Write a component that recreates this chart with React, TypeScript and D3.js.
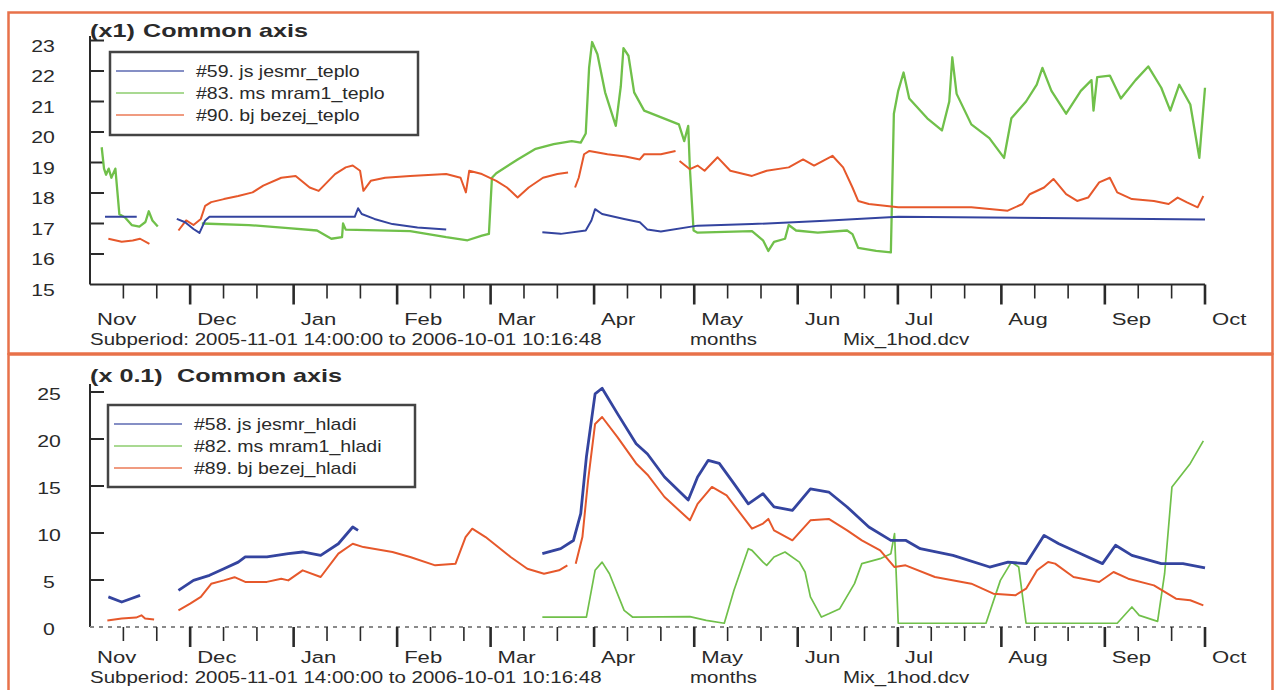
import React from 'react';
import * as d3 from 'd3';

// ---------- axis / category data ----------
const PERIOD_START = Date.UTC(2005, 10, 1);
const PERIOD_END = Date.UTC(2006, 9, 1);
const MONTH_LABELS = ['Nov', 'Dec', 'Jan', 'Feb', 'Mar', 'Apr', 'May', 'Jun', 'Jul', 'Aug', 'Sep', 'Oct'];
const TOP_Y_TICKS = [15, 16, 17, 18, 19, 20, 21, 22, 23];
const BOTTOM_Y_TICKS = [0, 5, 10, 15, 20, 25];
const TOP_TITLE_SCALE = '(x1)';
const BOTTOM_TITLE_SCALE = '(x 0.1)';
const TITLE_TEXT = 'Common axis';
const SUBPERIOD = 'Subperiod: 2005-11-01 14:00:00 to 2006-10-01 10:16:48';
const X_UNIT = 'months';
const FILE_NAME = 'Mix_1hod.dcv';
const TOP_LEGEND = ['#59. js jesmr_teplo', '#83. ms mram1_teplo', '#90. bj bezej_teplo'];
const BOTTOM_LEGEND = ['#58. js jesmr_hladi', '#82. ms mram1_hladi', '#89. bj bezej_hladi'];

// ---------- series: [days since 2005-11-01, value]; null value = gap ----------
const jesmrTeplo: [number, number | null][] = [
  [4.5, 17.22], [14, 17.22], [14.5, null],
  [26, 17.15], [28.5, 17.04], [31, 16.82], [32.8, 16.69], [34.5, 17.1], [35.8, 17.22], [79.3, 17.22], [80.3, 17.5], [81.4, 17.31], [85.2, 17.15], [90.6, 16.98], [98.1, 16.87], [106.7, 16.8], [107, null],
  [135.5, 16.71], [141, 16.66], [148.5, 16.77], [150.2, 17.1], [151.3, 17.47], [153.4, 17.31], [160, 17.15], [164.7, 17.04], [167, 16.8], [171, 16.74], [182, 16.93], [198.3, 16.98], [220.2, 17.09], [242.1, 17.22], [285.8, 17.18], [334, 17.13],
];
const mram1Teplo: [number, number | null][] = [
  [3.5, 19.5], [4.2, 18.8], [4.8, 18.6], [5.6, 18.8], [6.4, 18.5], [7.6, 18.8], [8.8, 17.3], [10.5, 17.2], [12.5, 16.95], [14.8, 16.9], [16.6, 17.05], [17.6, 17.4], [18.7, 17.1], [20.3, 16.9], [21, null],
  [33.5, 17.0], [47.6, 16.95], [59.4, 16.85], [68, 16.77], [72.3, 16.5], [75.5, 16.55], [75.8, 17.0], [76.6, 16.8], [95.9, 16.75], [106.7, 16.55], [113.1, 16.45], [117.4, 16.6], [119.5, 16.66], [120.4, 18.5], [121.7, 18.65], [128.1, 19.1], [133.5, 19.45], [138.9, 19.6], [144.3, 19.7], [147, 19.65], [148.5, 19.95], [149.5, 22.1], [150.4, 22.95], [152, 22.55], [154.3, 21.3], [157.5, 20.2], [159, 21.5], [159.8, 22.75], [161.3, 22.5], [163, 21.3], [166, 20.7], [176.4, 20.25], [178, 19.7], [179.2, 20.2], [179.7, 18.8], [180.8, 16.77], [182, 16.7], [198.3, 16.75], [201.6, 16.45], [203.2, 16.1], [204.9, 16.4], [208.2, 16.5], [209.3, 16.95], [211.5, 16.77], [218, 16.7], [226.8, 16.77], [228.4, 16.65], [230.1, 16.2], [235.5, 16.1], [239.9, 16.05], [240.8, 20.6], [242.1, 21.35], [243.7, 21.95], [245.4, 21.1], [250.8, 20.45], [255.2, 20.05], [257.4, 21.0], [258.3, 22.45], [259.6, 21.25], [264, 20.25], [269.4, 19.8], [273.8, 19.15], [276, 20.45], [280.4, 21.0], [283.6, 21.55], [285.3, 22.1], [288, 21.35], [292.4, 20.6], [296.8, 21.35], [300, 21.7], [300.6, 20.7], [301.7, 21.8], [305.5, 21.85], [308.8, 21.1], [313.2, 21.7], [317, 22.15], [320.9, 21.45], [323.6, 20.7], [326.3, 21.55], [329.6, 20.9], [332.3, 19.15], [334, 21.45],
];
const bezejTeplo: [number, number | null][] = [
  [5.5, 16.5], [9.5, 16.4], [12.8, 16.44], [15, 16.5], [17.8, 16.33], [18.2, null],
  [26.5, 16.77], [28.8, 17.1], [31, 16.95], [33.2, 17.15], [34.5, 17.58], [36.3, 17.7], [40.1, 17.8], [44.4, 17.9], [48.7, 18.02], [51.9, 18.24], [57.3, 18.5], [61.6, 18.56], [65.8, 18.18], [68.5, 18.07], [73.4, 18.62], [76.6, 18.84], [78.7, 18.9], [80.9, 18.73], [81.9, 18.07], [84.1, 18.4], [88.4, 18.5], [95.9, 18.56], [106.7, 18.62], [111, 18.5], [112.6, 18.02], [113.6, 18.73], [117.4, 18.62], [121.7, 18.4], [124.9, 18.18], [128.1, 17.85], [131.4, 18.18], [135.7, 18.5], [140, 18.62], [143.2, 18.67], [144, null],
  [145.3, 18.18], [146.4, 18.5], [148, 19.27], [149.6, 19.38], [155, 19.27], [160.4, 19.2], [164.7, 19.1], [166, 19.27], [171, 19.27], [175.4, 19.38], [176, null],
  [176.6, 19.05], [179.7, 18.78], [182, 18.9], [184.1, 18.73], [188, 19.17], [191.8, 18.73], [198.3, 18.56], [202.7, 18.73], [209.3, 18.84], [213.6, 19.1], [216.9, 18.9], [222.4, 19.22], [225.6, 18.84], [228.4, 18.18], [230.1, 17.74], [233.3, 17.64], [242.1, 17.53], [264, 17.53], [274.9, 17.42], [279.3, 17.64], [281.5, 17.96], [285.8, 18.18], [288.6, 18.46], [292.4, 17.96], [295.7, 17.74], [299, 17.85], [302.3, 18.35], [305.5, 18.5], [307.7, 18.02], [312.1, 17.8], [318.7, 17.74], [323.1, 17.64], [325.8, 17.85], [328.6, 17.69], [331.8, 17.53], [333.5, 17.9],
];
const jesmrHladi: [number, number | null][] = [
  [5.5, 3.2], [9.5, 2.66], [12.2, 3.0], [15, 3.37], [15.5, null],
  [26.5, 3.9], [31, 4.96], [35.8, 5.5], [40.1, 6.2], [44.4, 6.9], [46.5, 7.45], [53, 7.45], [59.4, 7.8], [63.7, 7.98], [69.1, 7.62], [74.4, 8.86], [78.7, 10.64], [80.3, 10.28], [81, null],
  [135.5, 7.8], [141, 8.33], [144.8, 9.2], [147, 12.06], [148.7, 18.1], [151.3, 24.8], [153.4, 25.4], [158, 22.7], [163.6, 19.5], [167, 18.4], [172.1, 15.96], [179.2, 13.5], [182, 15.96], [185.2, 17.73], [188.5, 17.4], [192.9, 15.25], [197.2, 13.1], [201.6, 14.18], [204.9, 12.77], [210.4, 12.4], [215.8, 14.7], [221.3, 14.36], [226.8, 12.77], [233.3, 10.64], [239.9, 9.22], [244.3, 9.22], [248.7, 8.33], [258.5, 7.62], [269.5, 6.38], [275, 6.9], [280.4, 6.74], [285.8, 9.75], [290.2, 8.86], [296.8, 7.8], [303.3, 6.74], [307.2, 8.69], [312.1, 7.62], [320.9, 6.74], [327.4, 6.74], [334, 6.3],
];
const mram1Hladi: [number, number | null][] = [
  [135.5, 1.06], [148.7, 1.06], [151.3, 6.03], [153.4, 6.9], [155.6, 5.67], [160, 1.77], [162.5, 1.06], [179.7, 1.1], [184.6, 0.7], [190, 0.4], [192.9, 3.9], [197.2, 8.33], [198.3, 8.15], [201.6, 6.9], [202.7, 6.56], [204.9, 7.45], [208.2, 7.98], [212.5, 6.9], [214.2, 5.85], [215.8, 3.2], [219.1, 1.06], [221.3, 1.4], [224.6, 1.95], [229, 4.61], [231.2, 6.74], [236.7, 7.27], [239.9, 7.8], [241, 9.93], [242.1, 0.4], [268.4, 0.4], [272.7, 4.96], [276, 6.9], [278.2, 6.38], [280.4, 0.4], [307.7, 0.4], [312.1, 2.13], [314.3, 1.24], [319.8, 0.6], [321.9, 5.67], [324.1, 14.9], [329.6, 17.4], [333.5, 19.8],
];
const bezejHladi: [number, number | null][] = [
  [5.2, 0.7], [9.5, 0.9], [13.8, 1.0], [15.4, 1.24], [16.5, 0.9], [19.2, 0.8], [19.5, null],
  [26.5, 1.77], [30, 2.48], [33.2, 3.2], [36.3, 4.6], [40.1, 4.96], [43.3, 5.3], [46.5, 4.8], [53, 4.8], [57.3, 5.14], [59.4, 4.96], [63.7, 6.03], [69.1, 5.32], [74.4, 7.8], [78.7, 8.86], [81.9, 8.5], [90.6, 7.98], [95.9, 7.45], [103.4, 6.56], [109.5, 6.74], [112.5, 9.57], [114.5, 10.46], [118.5, 9.57], [126, 7.45], [131, 6.2], [136, 5.67], [140.5, 6.03], [143, 6.56], [143.5, null],
  [145.5, 6.74], [147.5, 9.57], [149.2, 15.6], [151.3, 21.6], [153.4, 22.34], [158, 20.2], [163.6, 17.4], [167, 16.2], [172.1, 13.83], [179.7, 11.35], [182, 13.1], [186.3, 14.9], [190.7, 14.0], [198.3, 10.46], [201.6, 11.0], [203.2, 11.5], [204.9, 10.28], [210.4, 9.22], [215.8, 11.35], [221.3, 11.5], [226.8, 10.28], [231.2, 9.22], [236.7, 8.16], [241, 6.38], [244.3, 6.56], [253.1, 5.32], [264, 4.61], [270.6, 3.55], [277.2, 3.37], [280.4, 4.08], [283.7, 6.03], [287, 6.91], [289.1, 6.74], [294.6, 5.32], [302.3, 4.79], [306.6, 5.85], [311, 5.14], [318.7, 4.43], [325.3, 3.01], [329.6, 2.84], [333.5, 2.3],
];

const BLUE = '#34449f';
const GREEN = '#70c04a';
const RED = '#e6582b';
const BORDER = '#e8714a';
const INK = '#2a2a2a';
const FONT = 'Liberation Sans, Arial, Helvetica, sans-serif';

const DAY = 864e5;
const toDate = (d: number) => new Date(PERIOD_START + d * DAY);

const xScale = d3.scaleUtc().domain([new Date(PERIOD_START), new Date(PERIOD_END)]).range([90, 1205]);

// ticks on the 1st, 11th and 21st of every month
const monthStarts = d3.utcMonth.range(new Date(PERIOD_START), new Date(PERIOD_END + 1));
const tickDates: { date: Date; major: boolean }[] = [];
monthStarts.forEach((m, i) => {
  if (i > 0) tickDates.push({ date: m, major: true });
  if (i < monthStarts.length - 1) {
    tickDates.push({ date: d3.utcDay.offset(m, 10), major: false });
    tickDates.push({ date: d3.utcDay.offset(m, 20), major: false });
  }
});

function T({ x, y, children, anchor = 'start', size = 16, sx = 1.28, bold = false, fill = INK }: any) {
  return (
    <text
      transform={`translate(${x},${y}) scale(${sx},1)`}
      textAnchor={anchor}
      fontSize={size}
      fontWeight={bold ? 'bold' : 'normal'}
      fontFamily={FONT}
      fill={fill}
    >
      {children}
    </text>
  );
}

type Panel = {
  y: d3.ScaleLinear<number, number>;
  yTicks: number[];
  axisY: number;
  axisTop: number;
  dashedAxis: boolean;
  titleScale: string;
  titleY: number;
  legend: string[];
  legendBox: [number, number, number, number];
  series: { data: [number, number | null][]; color: string; width: number }[];
  monthY: number;
  subY: number;
  labelDy: number;
  labelX: number;
  commonX: number;
};

function PanelView({ p }: { p: Panel }) {
  const line = d3
    .line<[number, number | null]>()
    .defined((d) => d[1] != null)
    .x((d) => xScale(toDate(d[0])))
    .y((d) => p.y(d[1] as number));
  const [lx, ly, lw, lh] = p.legendBox;
  const colors = [BLUE, GREEN, RED];
  return (
    <g>
      <T x={90} y={p.titleY} size={18} sx={1.4} bold>{p.titleScale}</T>
      <T x={p.commonX} y={p.titleY} size={18} sx={1.4} bold>{TITLE_TEXT}</T>
      <line x1={90} x2={90} y1={p.axisTop} y2={p.axisY} stroke={INK} strokeWidth={2} />
      {p.yTicks.map((t, i) => (
        <g key={t}>
          {i > 0 && <line x1={90} x2={104} y1={p.y(t)} y2={p.y(t)} stroke={INK} strokeWidth={2} />}
          <T x={p.labelX} y={p.y(t) + p.labelDy} size={17} sx={1.25} anchor="middle">{t}</T>
        </g>
      ))}
      {p.dashedAxis ? (
        <line x1={90} x2={1205} y1={p.axisY} y2={p.axisY} stroke="#8a8a8a" strokeWidth={2} strokeDasharray="4,5" />
      ) : (
        <line x1={90} x2={1205} y1={p.axisY} y2={p.axisY} stroke={INK} strokeWidth={2} />
      )}
      {tickDates.map((t, i) => (
        <line
          key={i}
          x1={xScale(t.date)}
          x2={xScale(t.date)}
          y1={p.axisY}
          y2={p.axisY + (t.major ? 20 : 14)}
          stroke={INK}
          strokeWidth={t.major ? 2.6 : 1.6}
        />
      ))}
      {monthStarts.map((m, i) => (
        <T key={i} x={xScale(m) + 7} y={p.monthY} size={17} sx={1.3}>{MONTH_LABELS[i]}</T>
      ))}
      <T x={90} y={p.subY} size={16} sx={1.28}>{SUBPERIOD}</T>
      <T x={690} y={p.subY} size={16} sx={1.28}>{X_UNIT}</T>
      <T x={843} y={p.subY} size={16} sx={1.28}>{FILE_NAME}</T>
      {p.series.map((s, i) => (
        <path key={i} d={line(s.data) || ''} fill="none" stroke={s.color} strokeWidth={s.width} strokeLinejoin="round" />
      ))}
      <rect x={lx} y={ly} width={lw} height={lh} fill="#fff" stroke="#444" strokeWidth={2.5} />
      {p.legend.map((name, i) => (
        <g key={name}>
          <line x1={lx + 6} x2={lx + 74} y1={ly + 19 + i * 22} y2={ly + 19 + i * 22} stroke={colors[i]} strokeOpacity={0.6} strokeWidth={2} />
          <T x={lx + 86} y={ly + 25 + i * 22} size={16} sx={1.22}>{name}</T>
        </g>
      ))}
    </g>
  );
}

const topPanel: Panel = {
  y: d3.scaleLinear().domain([15, 23]).range([284.5, 40.5]),
  yTicks: TOP_Y_TICKS,
  axisY: 284.5,
  axisTop: 36,
  dashedAxis: false,
  titleScale: TOP_TITLE_SCALE,
  titleY: 37,
  legend: TOP_LEGEND,
  legendBox: [110, 52, 308, 83],
  series: [
    { data: mram1Teplo, color: GREEN, width: 2.3 },
    { data: bezejTeplo, color: RED, width: 2 },
    { data: jesmrTeplo, color: BLUE, width: 2 },
  ],
  monthY: 325,
  subY: 345,
  labelDy: 11,
  labelX: 43,
  commonX: 143,
};

const bottomPanel: Panel = {
  y: d3.scaleLinear().domain([0, 25]).range([627, 392]),
  yTicks: BOTTOM_Y_TICKS,
  axisY: 627,
  axisTop: 384,
  dashedAxis: true,
  titleScale: BOTTOM_TITLE_SCALE,
  titleY: 382,
  legend: BOTTOM_LEGEND,
  legendBox: [108, 405, 307, 82],
  series: [
    { data: mram1Hladi, color: GREEN, width: 1.7 },
    { data: jesmrHladi, color: BLUE, width: 2.8 },
    { data: bezejHladi, color: RED, width: 2 },
  ],
  monthY: 663,
  subY: 683,
  labelDy: 8,
  labelX: 49,
  commonX: 177,
};

export default function App() {
  return (
    <svg
      width={1275}
      height={690}
      style={{ position: 'absolute', left: 0, top: 0, background: '#fff' }}
    >
      <rect x={0} y={0} width={1275} height={690} fill="#fff" />
      <rect x={8.5} y={12.5} width={1264} height={341} fill="#fff" stroke={BORDER} strokeWidth={2.5} />
      <rect x={8.5} y={354.5} width={1264} height={345} fill="#fff" stroke={BORDER} strokeWidth={2.5} />
      <PanelView p={topPanel} />
      <PanelView p={bottomPanel} />
    </svg>
  );
}
